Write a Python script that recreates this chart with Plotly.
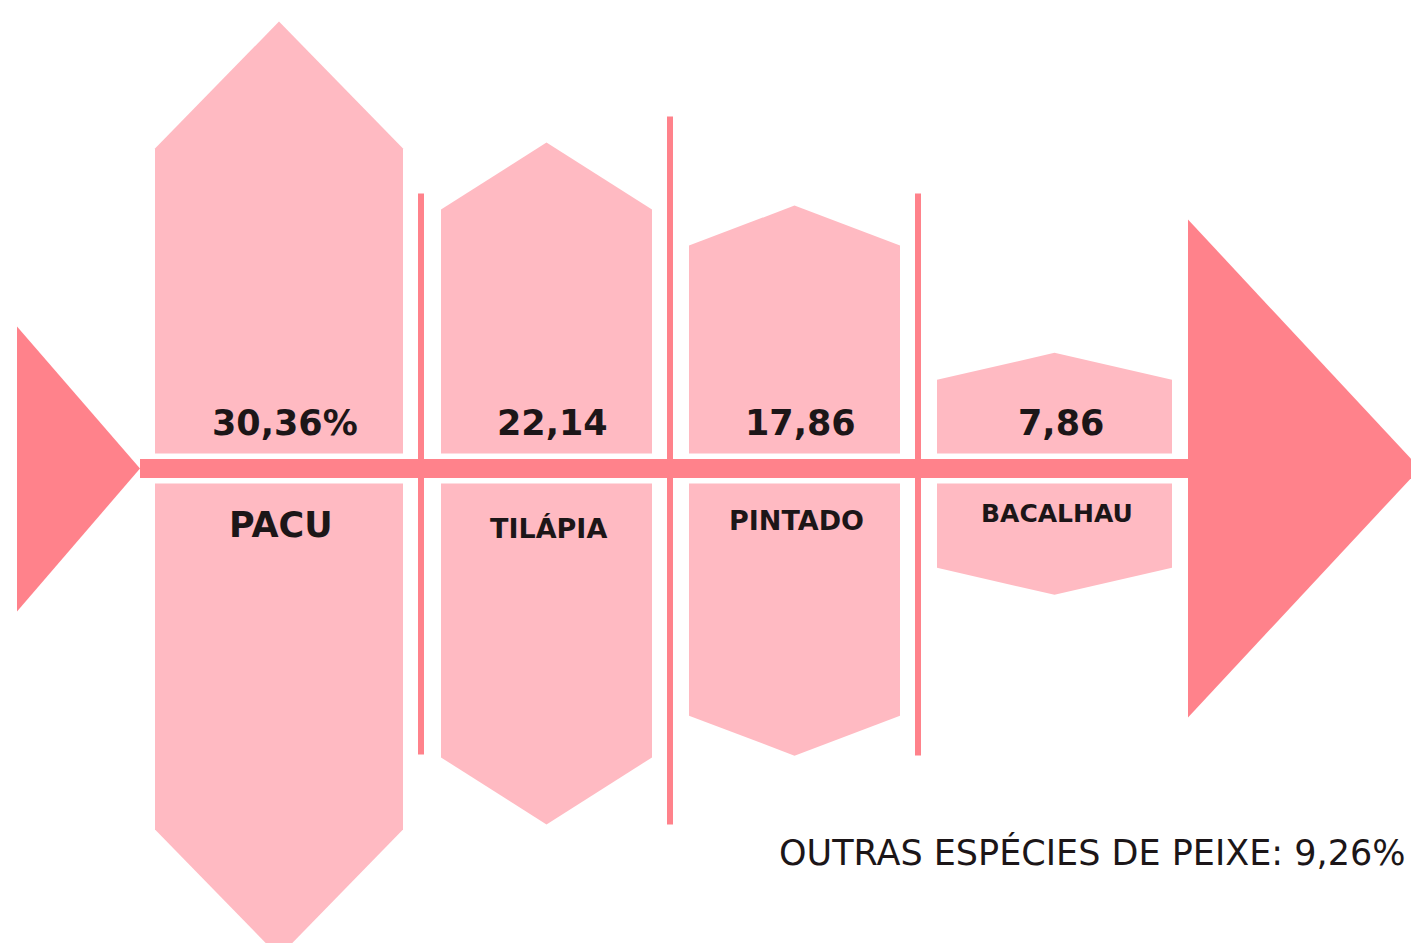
import plotly.graph_objects as go

# data (share of each fish species, %)
species = ["PACU", "TILÁPIA", "PINTADO", "BACALHAU"]
shares = [30.36, 22.14, 17.86, 7.86]
value_labels = ["30,36%", "22,14", "17,86", "7,86"]
other_label = "OUTRAS ESPÉCIES DE PEIXE"
other_share = 9.26

# layout / geometry (pixels of the 1411x943 canvas)
W, H = 1411, 943
SPINE_PX = 468.5          # spine centre, measured from the top
PX = 30.8                 # pixels per percentage point
TOP_FRAC = 0.478          # part of each body above the spine
col_left = [155, 441, 689, 937]
col_right = [403, 652, 900, 1172]
cap_px = [127, 67, 40, 27]
gap_px = 15
label_off = [56, 60, 52, 45]
label_size = [35, 27, 27, 25]
value_off = 46

LIGHT = "#ffbac2"
DARK = "#ff828b"
INK = "#1c1618"
FONT = "DejaVu Sans"


def u(px):
    return px / PX


fig = go.Figure()

# tail
fig.add_trace(go.Scatter(
    x=[17, 140, 17, 17], y=[u(142), 0, u(-143), u(142)],
    mode="lines", fill="toself", fillcolor=DARK, line=dict(width=0),
    hoverinfo="skip"))

# bodies (two halves each, split around the spine)
for i, v in enumerate(shares):
    L, R = col_left[i], col_right[i]
    mid = (L + R) / 2
    cap = u(cap_px[i])
    g = u(gap_px)
    top = TOP_FRAC * v
    bot = -(1 - TOP_FRAC) * v
    fig.add_trace(go.Scatter(
        x=[L, L, mid, R, R, L], y=[g, top - cap, top, top - cap, g, g],
        mode="lines", fill="toself", fillcolor=LIGHT, line=dict(width=0),
        hoverinfo="skip"))
    fig.add_trace(go.Scatter(
        x=[L, L, mid, R, R, L], y=[-g, bot + cap, bot, bot + cap, -g, -g],
        mode="lines", fill="toself", fillcolor=LIGHT, line=dict(width=0),
        hoverinfo="skip"))

# ribs, sized from the second body
t_top = TOP_FRAC * shares[1]
t_bot = -(1 - TOP_FRAC) * shares[1]
t_cap = u(cap_px[1])
for rx, y0, y1 in [(421, t_top - t_cap + u(16), t_bot + t_cap + u(3)),
                   (670, t_top + u(26), t_bot),
                   (918, t_top - t_cap + u(16), t_bot + t_cap + u(2))]:
    fig.add_trace(go.Scatter(
        x=[rx, rx], y=[y0, y1], mode="lines",
        line=dict(color=DARK, width=6), hoverinfo="skip"))

# spine
fig.add_trace(go.Scatter(
    x=[140, 1188, 1188, 140, 140], y=[u(9.5), u(9.5), u(-9.5), u(-9.5), u(9.5)],
    mode="lines", fill="toself", fillcolor=DARK, line=dict(width=0),
    hoverinfo="skip"))

# head
fig.add_trace(go.Scatter(
    x=[1188, 1420, 1188, 1188], y=[u(249), 0, u(-249), u(249)],
    mode="lines", fill="toself", fillcolor=DARK, line=dict(width=0),
    hoverinfo="skip"))

annotations = []
for i, name in enumerate(species):
    mid = (col_left[i] + col_right[i]) / 2
    annotations.append(dict(
        x=mid + 6, y=u(value_off), text=value_labels[i], showarrow=False,
        xanchor="center", yanchor="middle",
        font=dict(family=FONT, size=35, color=INK, weight="bold")))
    annotations.append(dict(
        x=mid + 2, y=u(-label_off[i]), text=name, showarrow=False,
        xanchor="center", yanchor="middle",
        font=dict(family=FONT, size=label_size[i], color=INK, weight="bold")))

annotations.append(dict(
    x=1407, y=u(468.5 - 852), showarrow=False, xanchor="right", yanchor="middle",
    text=f"{other_label}: {other_share:.2f}%".replace(".", ","),
    font=dict(family=FONT, size=35, color=INK)))

fig.update_layout(
    width=W, height=H,
    margin=dict(l=0, r=0, t=0, b=0),
    paper_bgcolor="white", plot_bgcolor="white",
    showlegend=False,
    annotations=annotations,
    xaxis=dict(range=[0, W], visible=False, fixedrange=True),
    yaxis=dict(range=[u(SPINE_PX - H), u(SPINE_PX)], visible=False, fixedrange=True),
)

fig.write_html("out.html", config={"displayModeBar": False},
               post_script="document.body.style.margin='0';")
